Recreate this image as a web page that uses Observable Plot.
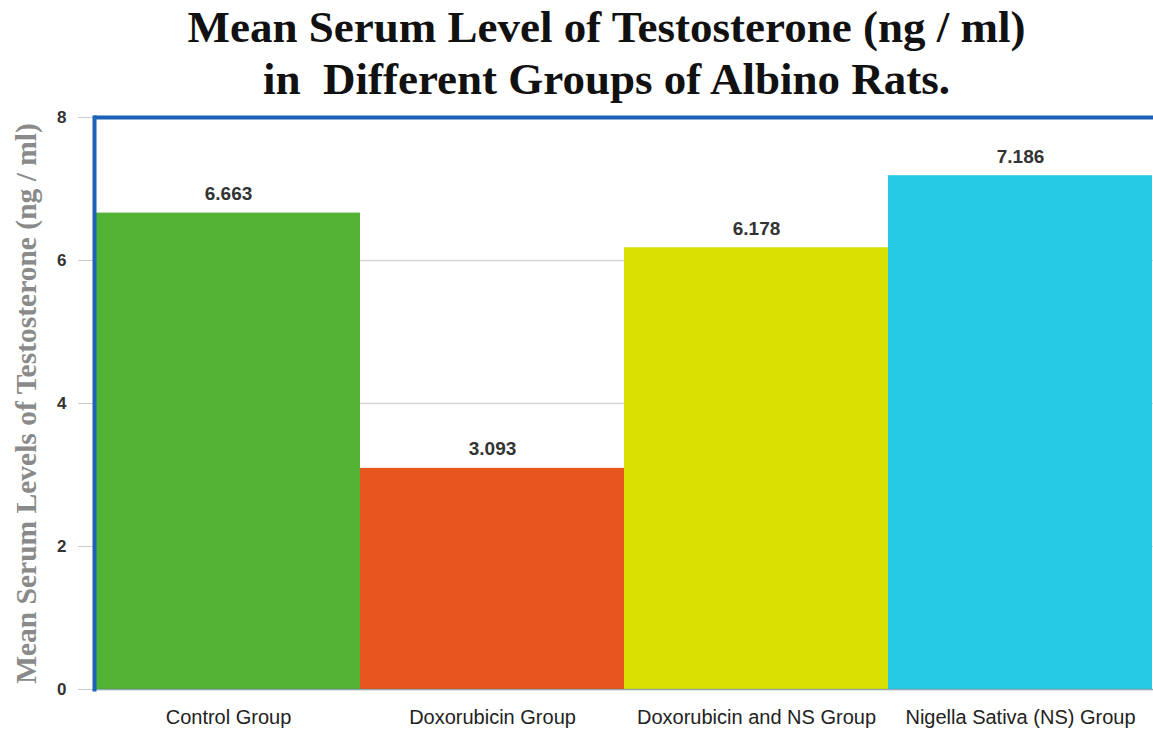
<!DOCTYPE html>
<html>
<head>
<meta charset="utf-8">
<script src="https://cdn.jsdelivr.net/npm/d3@7"></script>
<script src="https://cdn.jsdelivr.net/npm/@observablehq/plot@0.6"></script>
<style>
  body { margin: 0; background: #fff; width: 1153px; height: 731px; overflow: hidden; }
  #title { font-family: "Liberation Serif", "Times New Roman", serif; font-weight: bold; font-size: 45px;
    text-align: center; color: #111; line-height: 52px; padding-top: 1px; height: 104px; padding-left: 60px; white-space: nowrap; }
  #chart svg { display: block; overflow: visible; }
  g[aria-label="y-axis label"] text { font-family: "Liberation Serif", serif; font-weight: bold; font-size: 29.5px; fill: #8a8a8a; }
  g[aria-label="y-axis tick label"] text { font-weight: bold; font-size: 17px; fill: #333; }
  g[aria-label="x-axis tick label"] text { font-size: 20px; fill: #222; }
</style>
</head>
<body>
<div id="title">Mean Serum Level of Testosterone (ng / ml)<br>in&nbsp; Different Groups of Albino Rats.</div>
<div id="chart"></div>
<script>
const groups = ["Control Group", "Doxorubicin Group", "Doxorubicin and NS Group", "Nigella Sativa (NS) Group"];
const values = [6.663, 3.093, 6.178, 7.186];
const labels = ["6.663", "3.093", "6.178", "7.186"];
const colors = ["#52b233", "#e8561d", "#dbe003", "#27cae5"];
const yTicks = [0, 2, 4, 6, 8];

const data = groups.map((g, i) => ({group: g, value: values[i], label: labels[i]}));

const chart = Plot.plot({
  width: 1153,
  height: 626,
  marginTop: 12,
  marginBottom: 42,
  marginLeft: 94,
  marginRight: 0,
  style: {fontFamily: "Liberation Sans, Arial, sans-serif", background: "#fff"},
  x: {domain: groups, padding: 0, label: null},
  y: {domain: [0, 8], ticks: yTicks, label: "Mean Serum Levels of Testosterone (ng / ml)", labelAnchor: "center", labelArrow: "none"},
  color: {domain: groups, range: colors},
  marks: [
    Plot.gridY(yTicks, {stroke: "#d8d8d8", strokeOpacity: 1, strokeWidth: 1.5}),
    Plot.barY(data, {x: "group", y: "value", fill: "group"}),
    Plot.text(data, {x: "group", y: "value", text: "label", dy: -19, fontWeight: "bold", fontSize: 19, fill: "#333", style: {letterSpacing: "0.6px"}}),
    Plot.axisY({ticks: yTicks, tickSize: 16, tickPadding: 12, stroke: "#ccc", fontSize: 17, fontWeight: "bold",
      label: "Mean Serum Levels of Testosterone (ng / ml)", labelAnchor: "center", labelOffset: 79, labelArrow: "none"}),
    Plot.axisX({tickSize: 0, tickPadding: 20, fontSize: 20}),
    Plot.ruleY([8], {stroke: "#1d62b6", strokeWidth: 4}),
    Plot.ruleY([0], {stroke: "#4a7a8a", strokeWidth: 1.5, strokeOpacity: 0.5}),
    Plot.frame({anchor: "left", stroke: "#1d62b6", strokeWidth: 4})
  ]
});
document.getElementById("chart").appendChild(chart);
</script>
</body>
</html>
